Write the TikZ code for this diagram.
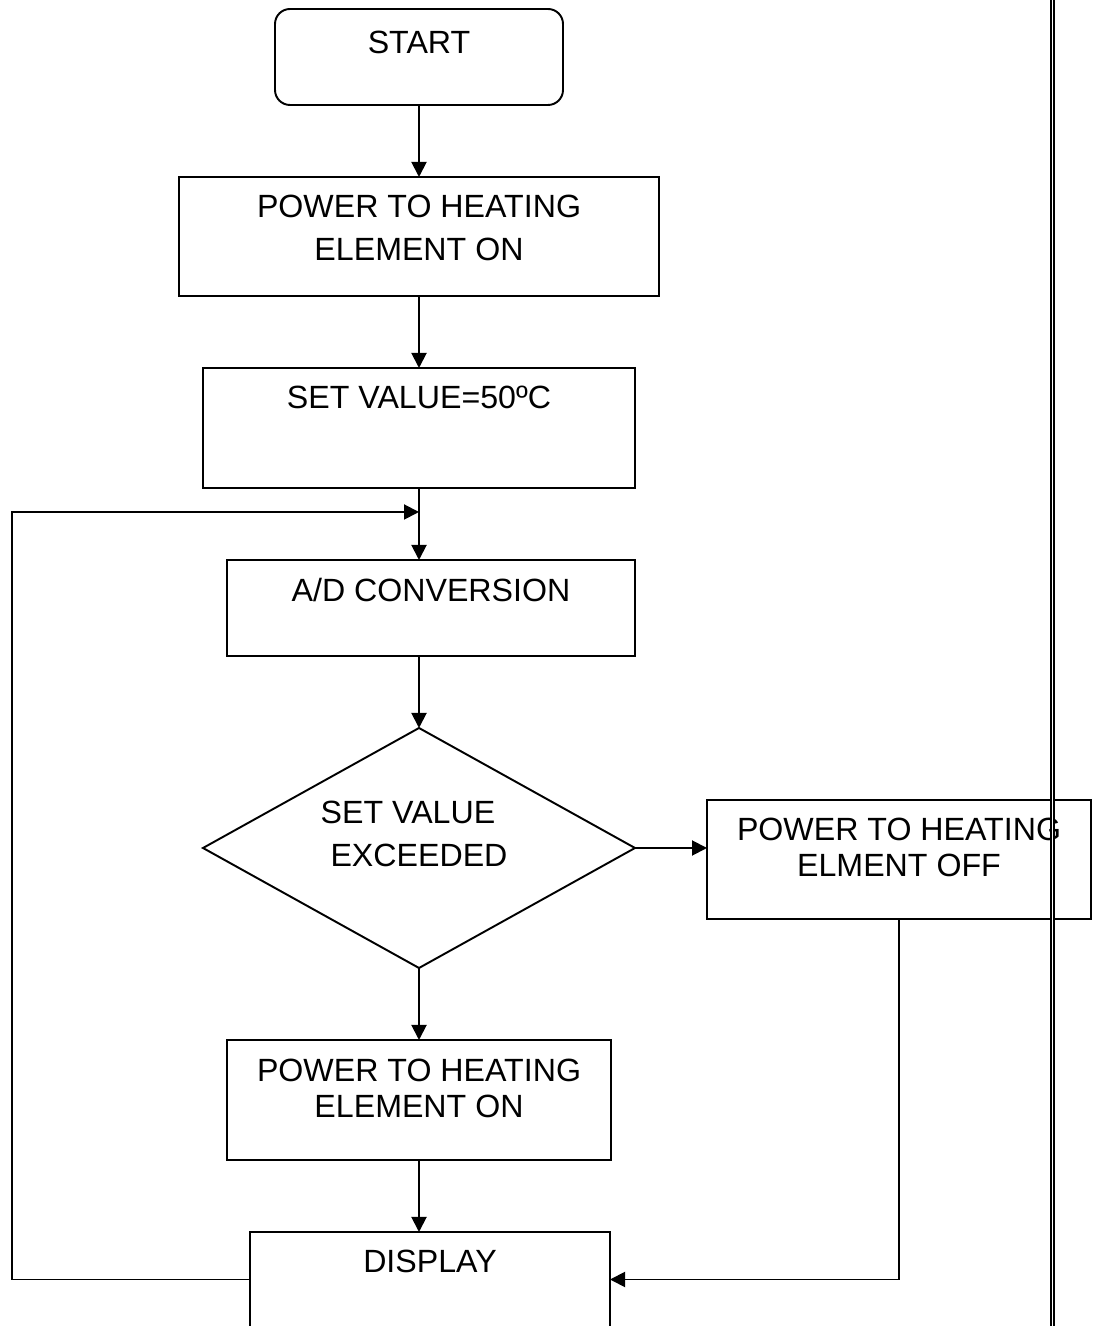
\documentclass[tikz,border=0pt]{standalone}
\usepackage{fontspec}
\setmainfont{Liberation Sans}
\usetikzlibrary{positioning,shapes.geometric,arrows.meta}
\tikzset{>={Triangle[length=.3cm,width=.3cm]}}

\begin{document}
\begin{tikzpicture}[line width=1.1pt, node distance=1.44cm,
    blk/.style={draw, rectangle, inner sep=0pt, outer sep=0pt, minimum height=2.4cm},
    txt/.style={inner sep=0pt, align=center, font=\fontsize{18.3}{20.5}\selectfont}]
    \useasboundingbox(0, 0) rectangle (21.86, 26.52);
    \clip(0, 0) rectangle (21.86, 26.52);
    % boxes
    \node[blk, rounded corners=.3cm, minimum width=5.76cm, minimum height=1.92cm](start) at(8.38, 25.38){};
    \node[blk, minimum width=9.6cm, minimum height=2.38cm, below=of start](pow1){};
    \node[blk, minimum width=8.64cm, below=of pow1](setv){};
    \node[blk, minimum width=8.16cm, minimum height=1.92cm, below=of setv, xshift=.24cm](adc){};
    \node[draw, diamond, inner sep=0pt, outer sep=0pt, minimum width=8.64cm, minimum height=4.8cm, below=of adc, xshift=-.24cm](dec){};
    \node[blk, minimum width=7.68cm, minimum height=2.38cm, right=of dec, yshift=-.23cm](off){};
    \node[blk, minimum width=7.68cm, below=of dec](pow2){};
    \node[blk, minimum width=7.2cm, minimum height=1.9cm, below=of pow2, xshift=.22cm](disp){};
    % texts
    \node[txt, below=.43cm of start.north](starttxt){START};
    \node[txt, below=.35cm of pow1.north](pow1txt){POWER TO HEATING\\[4pt]ELEMENT ON};
    \node[txt, below=.35cm of setv.north](setvtxt){SET VALUE=50ºC};
    \node[txt, below=.35cm of adc.north](adctxt){A/D CONVERSION};
    \node[txt, below=1.45cm of dec.north](dectxt){SET VALUE\kern.44cm\\[4pt]EXCEEDED};
    \node[txt, below=.35cm of off.north](offtxt){POWER TO HEATING\\ELMENT OFF};
    \node[txt, below=.37cm of pow2.north](pow2txt){POWER TO HEATING\\ELEMENT ON};
    \node[txt, below=.35cm of disp.north](disptxt){DISPLAY};
    % arrows
    \draw[->](start.south) -- (pow1.north);
    \draw[->](pow1.south) -- (setv.north);
    \draw[->](setv.south) -- (setv.south |- adc.north);
    \draw[->](adc.south -| dec.north) -- (dec.north);
    \draw[->](dec.east) -- (dec.east -| off.west);
    \draw[->](dec.south) -- (pow2.north);
    \draw[->](pow2.south) -- (pow2.south |- disp.north);
    \draw[->](off.south) |- (disp.east);
    \coordinate[below=.48cm of setv.south](join);
    \draw[->](disp.west) -- ++(-4.76, 0) |- (join);
    % margin rule
    \draw[double, double distance=.026cm](21.05, 0) -- (21.05, 26.52);
\end{tikzpicture}
\end{document}
